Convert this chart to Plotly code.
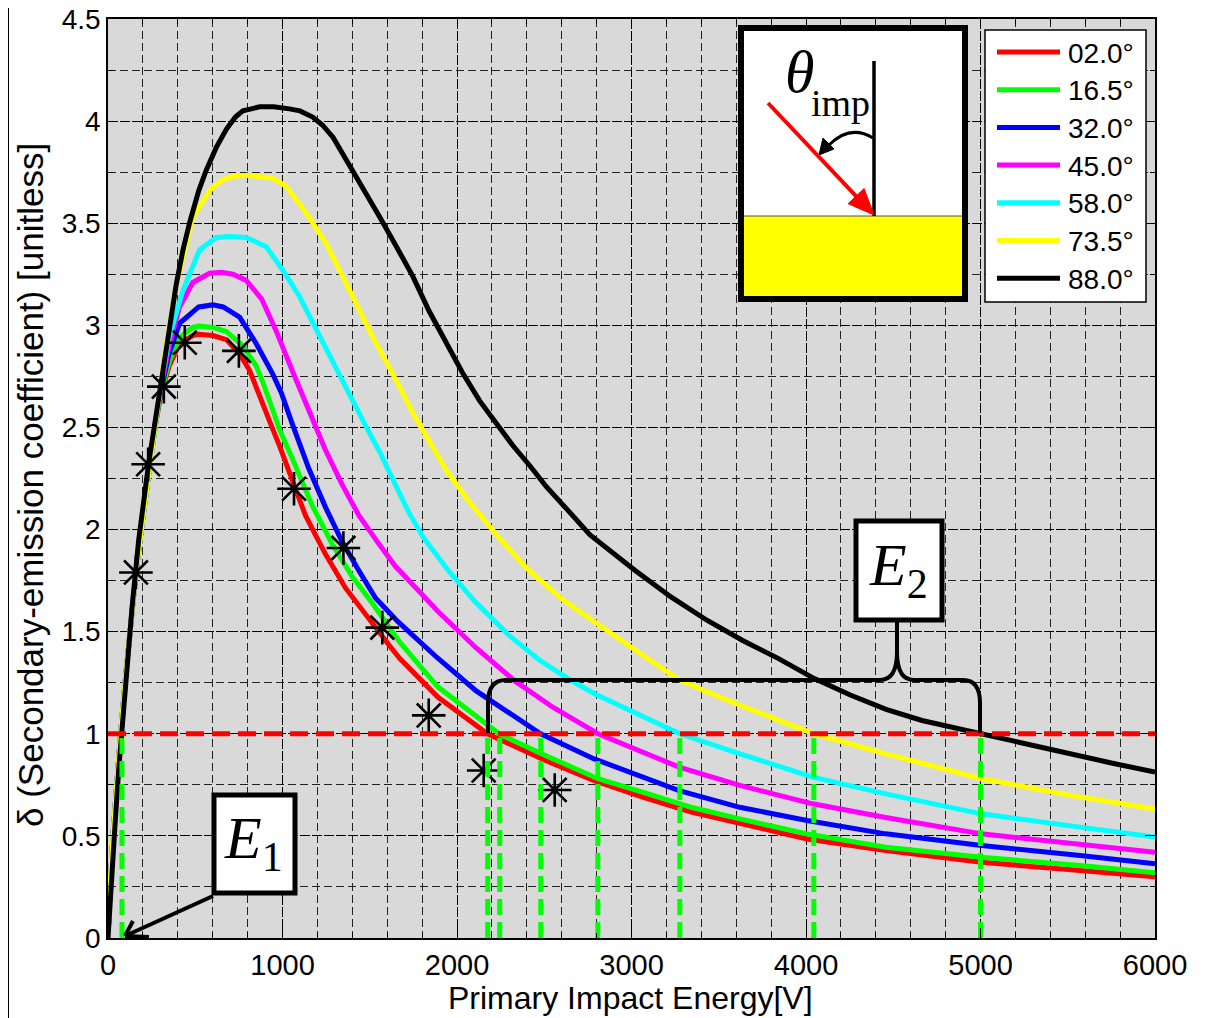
import plotly.graph_objects as go

# ---------------- data ----------------
red_E = [0, 5, 15, 30, 50, 72, 100, 130, 160, 200, 240, 270, 300, 350, 410, 486, 520, 601, 678, 754,
         811, 850, 940, 983, 1036, 1131, 1194, 1246, 1361, 1475, 1609, 1671, 1890, 2175, 2507, 2786,
         3064, 3343, 3621, 4006, 4457, 5006, 5571, 6000]
red_d = [0, 0.12, 0.30, 0.52, 0.78, 1.0, 1.27, 1.55, 1.79, 2.06, 2.33, 2.50, 2.65, 2.80, 2.91, 2.95,
         2.956, 2.95, 2.93, 2.86, 2.78, 2.70, 2.50, 2.41, 2.29, 2.07, 1.965, 1.88, 1.714, 1.583, 1.436,
         1.37, 1.18, 1.0, 0.869, 0.771, 0.69, 0.616, 0.559, 0.485, 0.428, 0.371, 0.33, 0.30]

green_E = [0, 5, 15, 30, 50, 72, 100, 130, 160, 200, 240, 270, 300, 350, 410, 486, 520, 601, 678, 773,
           850, 888, 959, 983, 1055, 1169, 1284, 1399, 1514, 1628, 1671, 1890, 2242, 2507, 2808, 3064,
           3343, 3621, 4006, 4457, 5006, 5571, 6000]
green_d = [0, 0.12, 0.30, 0.52, 0.78, 1.0, 1.27, 1.55, 1.79, 2.06, 2.33, 2.50, 2.66, 2.82, 2.94, 2.99,
           2.997, 2.99, 2.97, 2.90, 2.80, 2.72, 2.55, 2.49, 2.35, 2.12, 1.93, 1.77, 1.64, 1.50, 1.45,
           1.23, 1.0, 0.894, 0.78, 0.714, 0.64, 0.583, 0.51, 0.444, 0.395, 0.355, 0.32]

blue_E = [0, 5, 15, 30, 50, 72, 100, 130, 160, 200, 240, 270, 300, 350, 410, 486, 520, 600, 660, 754,
          850, 945, 993, 1055, 1150, 1246, 1342, 1437, 1533, 1660, 1890, 2110, 2479, 2786, 3273, 3621,
          4006, 4457, 5006, 5571, 6000]
blue_d = [0, 0.12, 0.30, 0.52, 0.78, 1.0, 1.27, 1.55, 1.79, 2.06, 2.33, 2.51, 2.67, 2.86, 3.01, 3.07,
          3.09, 3.10, 3.09, 3.04, 2.91, 2.76, 2.67, 2.52, 2.30, 2.11, 1.94, 1.80, 1.665, 1.55, 1.37,
          1.21, 1.0, 0.877, 0.722, 0.64, 0.575, 0.51, 0.453, 0.404, 0.363]

magenta_E = [0, 5, 15, 30, 50, 72, 100, 130, 160, 200, 240, 270, 300, 350, 410, 486, 582, 650, 716,
             792, 880, 960, 1055, 1150, 1246, 1342, 1437, 1552, 1647, 1780, 1890, 2110, 2329, 2549,
             2808, 3273, 3621, 4039, 4457, 5006, 5571, 6000]
magenta_d = [0, 0.12, 0.30, 0.52, 0.78, 1.0, 1.27, 1.55, 1.79, 2.06, 2.33, 2.51, 2.68, 2.90, 3.09,
             3.21, 3.255, 3.26, 3.25, 3.22, 3.13, 2.98, 2.78, 2.58, 2.39, 2.22, 2.07, 1.93, 1.82, 1.70,
             1.60, 1.42, 1.26, 1.13, 1.0, 0.837, 0.747, 0.657, 0.59, 0.51, 0.461, 0.42]

cyan_E = [0, 5, 15, 30, 50, 72, 100, 130, 160, 200, 240, 270, 300, 350, 429, 525, 620, 700, 792, 907,
          1002, 1098, 1194, 1284, 1380, 1475, 1557, 1647, 1720, 1804, 1950, 2100, 2300, 2474, 2637,
          2790, 3000, 3277, 3621, 4039, 4457, 5006, 5571, 6000]
cyan_d = [0, 0.12, 0.30, 0.52, 0.78, 1.0, 1.27, 1.55, 1.79, 2.06, 2.33, 2.51, 2.69, 2.94, 3.17, 3.37,
          3.43, 3.435, 3.43, 3.385, 3.27, 3.14, 2.98, 2.825, 2.66, 2.51, 2.38, 2.22, 2.09, 1.965, 1.80,
          1.65, 1.48, 1.36, 1.27, 1.195, 1.11, 1.0, 0.902, 0.788, 0.706, 0.608, 0.543, 0.494]

yellow_E = [0, 5, 15, 30, 50, 72, 100, 130, 160, 200, 240, 270, 300, 340, 391, 486, 582, 650, 716, 800,
            880, 945, 1022, 1136, 1251, 1385, 1519, 1671, 1747, 1939, 2066, 2226, 2400, 2600, 2815,
            3021, 3267, 3432, 3637, 3843, 4045, 4457, 5006, 5571, 6000]
yellow_d = [0, 0.12, 0.30, 0.52, 0.78, 1.0, 1.27, 1.55, 1.79, 2.06, 2.33, 2.51, 2.70, 2.94, 3.20, 3.53,
            3.66, 3.71, 3.73, 3.735, 3.73, 3.72, 3.68, 3.55, 3.40, 3.17, 2.94, 2.70, 2.57, 2.29, 2.14,
            1.975, 1.81, 1.66, 1.53, 1.41, 1.268, 1.205, 1.135, 1.065, 1.0, 0.902, 0.78, 0.69, 0.632]

black_E = [0, 10, 23, 40, 61, 80, 100, 138, 176, 234, 301, 350, 391, 430, 467, 520, 563, 620, 678, 730,
           773, 869, 950, 1040, 1100, 1173, 1230, 1290, 1366, 1460, 1557, 1650, 1747, 1840, 1939, 2030,
           2130, 2230, 2321, 2420, 2512, 2640, 2761, 3021, 3226, 3432, 3637, 3843, 4048, 4254, 4459,
           4665, 5000, 5250, 5500, 5750, 6000]
black_d = [0, 0.12, 0.30, 0.55, 0.82, 1.03, 1.25, 1.62, 1.95, 2.33, 2.70, 2.98, 3.20, 3.37, 3.50, 3.66,
           3.76, 3.87, 3.96, 4.02, 4.05, 4.07, 4.07, 4.06, 4.05, 4.02, 3.98, 3.92, 3.81, 3.68, 3.53, 3.39,
           3.24, 3.07, 2.91, 2.77, 2.63, 2.51, 2.41, 2.31, 2.21, 2.09, 1.975, 1.80, 1.67, 1.556, 1.457,
           1.368, 1.27, 1.19, 1.12, 1.065, 1.0, 0.95, 0.905, 0.857, 0.812]

# measured points (asterisks)
star_E = [160, 230, 320, 440, 750, 1066, 1349, 1572, 1838, 2153, 2560]
star_d = [1.79, 2.32, 2.70, 2.915, 2.875, 2.20, 1.91, 1.52, 1.09, 0.82, 0.725]

# crossover energies (delta = 1)
E1_vals = [80]
E2_vals = [2176, 2245, 2480, 2807, 3277, 4045, 5000]
unity = 1.0

angle_labels = ["02.0°", "16.5°", "32.0°", "45.0°", "58.0°", "73.5°", "88.0°"]
colors = ["#ff0000", "#00ff00", "#0000ff", "#ff00ff", "#00ffff", "#ffff00", "#000000"]

x_ticks = [0, 1000, 2000, 3000, 4000, 5000, 6000]
y_ticks = [0, 0.5, 1, 1.5, 2, 2.5, 3, 3.5, 4, 4.5]

# ---------------- layout geometry ----------------
W, H = 1210, 1018
# target plot-area edges in the picture (pixels)
L, R, T, B = 108, 1155, 19, 938
# page offset of the figure inside the browser (body margin)
OFF = 8
M_L, M_R, M_T, M_B = L - OFF, W - (R - OFF), T - OFF, H - (B - OFF)


def pp(xp, yp):
    """picture pixel -> paper coordinates"""
    return (xp - L) / (R - L), (B - yp) / (B - T)


fig = go.Figure()

curves = [red_E, green_E, blue_E, magenta_E, cyan_E, yellow_E, black_E]
values = [red_d, green_d, blue_d, magenta_d, cyan_d, yellow_d, black_d]
for name, col, xs, ys in zip(angle_labels, colors, curves, values):
    fig.add_trace(go.Scatter(x=xs, y=ys, mode="lines", name=name,
                             line=dict(color=col, width=5), showlegend=False))

# asterisks
fig.add_trace(go.Scatter(x=star_E, y=star_d, mode="markers", showlegend=False,
                         marker=dict(symbol="asterisk-open", size=28,
                                     line=dict(width=2.6, color="black"), color="black")))

# green dashed verticals at E1 / E2
gx, gy = [], []
for e in E1_vals + E2_vals:
    gx += [e, e, None]
    gy += [0, unity, None]
fig.add_trace(go.Scatter(x=gx, y=gy, mode="lines", showlegend=False,
                         line=dict(color="#00ff00", width=5, dash="16px,7px")))

# red dashed delta = 1 line
fig.add_trace(go.Scatter(x=[x_ticks[0], x_ticks[-1]], y=[unity, unity], mode="lines",
                         showlegend=False,
                         line=dict(color="#ff0000", width=5, dash="18px,8px")))

shapes = []
annotations = []


def rect(x0, y0, x1, y1, fill="white", lw=1, lc="black"):
    a = pp(x0, y1)
    b = pp(x1, y0)
    shapes.append(dict(type="rect", xref="paper", yref="paper", x0=a[0], y0=a[1], x1=b[0], y1=b[1],
                       fillcolor=fill, line=dict(color=lc, width=lw), layer="above"))


def seg(x0, y0, x1, y1, lw=1, lc="black"):
    a = pp(x0, y0)
    b = pp(x1, y1)
    shapes.append(dict(type="line", xref="paper", yref="paper", x0=a[0], y0=a[1], x1=b[0], y1=b[1],
                       line=dict(color=lc, width=lw), layer="above"))


def path(cmds, lw=1, lc="black", fill=None):
    s = ""
    for c in cmds:
        op = c[0]
        pts = c[1:]
        s += op + " " + " ".join("%.5f,%.5f" % pp(pts[i], pts[i + 1]) for i in range(0, len(pts), 2)) + " "
    if fill:
        s += "Z"
    shapes.append(dict(type="path", xref="paper", yref="paper", path=s,
                       line=dict(color=lc, width=lw), fillcolor=fill if fill else "rgba(0,0,0,0)",
                       layer="above"))


def text(xp, yp, txt, size, family="Liberation Sans", xanchor="center", yanchor="middle", angle=0):
    x, y = pp(xp, yp)
    annotations.append(dict(x=x, y=y, xref="paper", yref="paper", text=txt, showarrow=False,
                            xanchor=xanchor, yanchor=yanchor, textangle=angle,
                            font=dict(family=family, size=size, color="black")))


# left edge artefacts of the original figure
rect(5, 8, 9, H, fill="black", lw=0, lc="black")
seg(1, 807, 1, 930, lw=2, lc="#999999")

# ---- legend (drawn by hand to match spacing) ----
rect(985, 30, 1146, 302, fill="white", lw=1.5)
for i, (lab, col) in enumerate(zip(angle_labels, colors)):
    yc = 52 + 37.7 * i
    seg(997, yc, 1060, yc, lw=5, lc=col)
    text(1066, yc + 1, lab, 28, xanchor="left")

# ---- inset sketch ----
rect(741, 28, 965, 299, fill="white", lw=0)
rect(741, 216, 965, 299, fill="#ffff00", lw=1, lc="#555555")
rect(741, 28, 965, 299, fill="rgba(0,0,0,0)", lw=6)
seg(874, 61, 874, 216, lw=3.5)
# curved black arrow
path([("M", 873, 138), ("Q", 850, 124, 829, 145)], lw=3)
path([("M", 819, 155), ("L", 823, 138), ("L", 834, 149)], lw=1, fill="black")
# red incidence arrow
tail_x, tail_y, tip_x, tip_y = 768, 103, 874, 215
dx, dy = tip_x - tail_x, tip_y - tail_y
n = (dx * dx + dy * dy) ** 0.5
ux, uy = dx / n, dy / n
hl, hw = 26, 11
bx, by = tip_x - hl * ux, tip_y - hl * uy
seg(tail_x, tail_y, bx + 2 * ux, by + 2 * uy, lw=4, lc="#ff0000")
path([("M", tip_x, tip_y), ("L", bx - hw * uy, by + hw * ux), ("L", bx + hw * uy, by - hw * ux)],
     lw=1, lc="#ff0000", fill="#ff0000")
text(799, 72, "<i>θ</i>", 60, family="Liberation Serif")
text(840, 103, "imp", 38, family="Liberation Serif")

# ---- E1 box and arrow ----
seg(213, 896, 125, 936, lw=4)
seg(125, 936, 133, 921, lw=4)
seg(125, 936, 149, 937, lw=4)
rect(214, 795, 295, 893, fill="white", lw=5)
text(253, 842, "<i>E</i><sub>1</sub>", 60, family="Liberation Serif")

# ---- E2 bracket and box ----
path([("M", 488, 733), ("L", 488, 703), ("Q", 488, 680, 506, 680), ("L", 880, 680),
      ("Q", 897, 680, 897, 652), ("L", 897, 622),
      ("M", 897, 652), ("Q", 897, 680, 914, 680), ("L", 963, 680),
      ("Q", 980, 680, 980, 703), ("L", 980, 733)], lw=4)
rect(856, 521, 942, 620, fill="white", lw=5)
text(898, 569, "<i>E</i><sub>2</sub>", 60, family="Liberation Serif")

# ---- axis titles ----
text(630, 998, "Primary Impact Energy[V]", 32)
text(30, 485, "δ (Secondary-emission coefficient) [unitless]", 35, angle=-90)

fig.update_layout(
    width=W, height=H,
    margin=dict(l=M_L, r=M_R, t=M_T, b=M_B, pad=0, autoexpand=False),
    paper_bgcolor="white", plot_bgcolor="#d9d9d9",
    shapes=shapes, annotations=annotations,
    font=dict(family="Liberation Sans", size=28, color="black"),
)

fig.update_xaxes(range=[x_ticks[0], x_ticks[-1]], tickvals=x_ticks, showline=True, linecolor="black",
                 linewidth=1.5, mirror="allticks", ticks="inside", ticklen=10, tickcolor="black",
                 showgrid=True, gridcolor="black", gridwidth=1, griddash="10px,2px", zeroline=False,
                 tickfont=dict(size=29), ticklabeloverflow="allow", automargin=False,
                 minor=dict(dtick=200, showgrid=True, gridcolor="#222222", gridwidth=1,
                            griddash="8px,4px", ticks="inside", ticklen=5, tickcolor="black"))
fig.update_yaxes(range=[y_ticks[0], y_ticks[-1]], tickvals=y_ticks, showline=True, linecolor="black",
                 linewidth=1.5, mirror="allticks", ticks="inside", ticklen=10, tickcolor="black",
                 showgrid=True, gridcolor="black", gridwidth=1, griddash="10px,2px", zeroline=False,
                 tickfont=dict(size=28), ticklabeloverflow="allow", automargin=False,
                 minor=dict(dtick=0.25, showgrid=True, gridcolor="#222222", gridwidth=1,
                            griddash="8px,4px", ticks="inside", ticklen=5, tickcolor="black"))

fig.write_html("out.html")
